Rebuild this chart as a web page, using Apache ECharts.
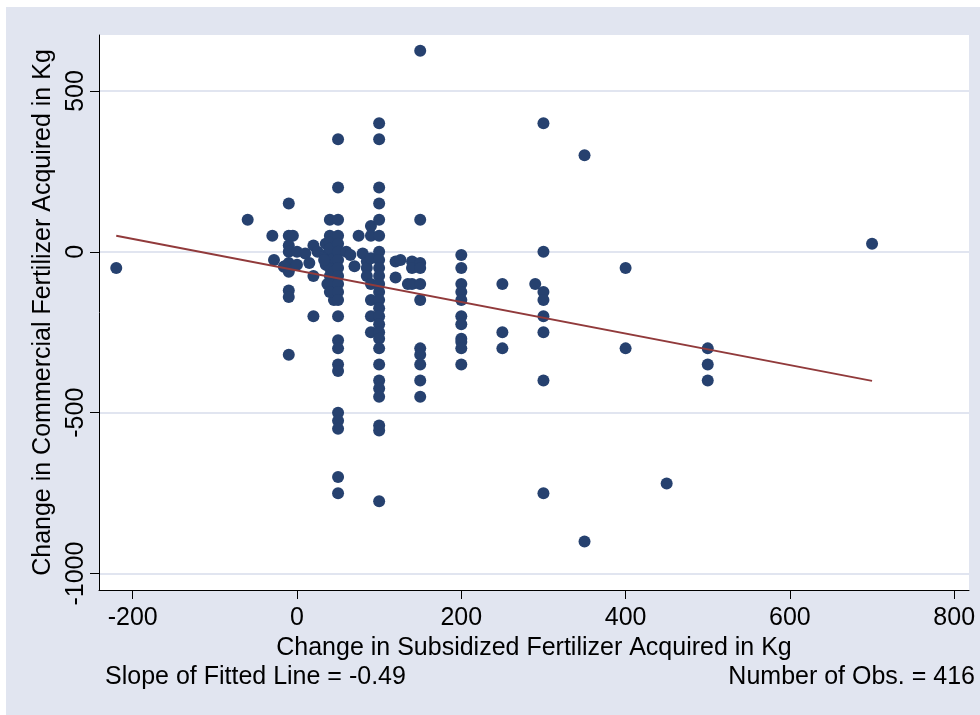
<!DOCTYPE html>
<html>
<head>
<meta charset="utf-8">
<script src="https://cdn.jsdelivr.net/npm/echarts@6/dist/echarts.min.js"></script>
<style>
html,body{margin:0;padding:0;background:#fff;}
#chart{width:980px;height:715px;}
</style>
</head>
<body>
<div id="chart"></div>
<script>
// Observations (change in subsidized fertilizer, change in commercial fertilizer), Kg
const obsX = [
  -220, -60, -30, -28,
  -10, -10, -5, -10, -10, -10, -10, -15, -10, -10, -10, -16, -10,
  0, 0, 10, 20, 15, 20, 20, 25,
  35, 35, 35, 40, 40, 40, 40, 40, 40, 40, 40, 45, 45, 45, 33, 37, 40, 40,
  50, 50, 50, 50, 50, 50, 50, 50, 50, 50, 50, 50, 50, 50, 50, 50, 50, 50, 50, 50, 50, 50,
  60, 65, 70, 75, 80, 85, 85, 85, 90, 90, 90, 90, 90, 90, 90,
  100, 100, 100, 100, 100, 100, 100, 100, 100, 100, 100, 100, 100, 100, 100, 100, 100, 100, 100, 100, 100, 100, 100, 100, 100, 100,
  120, 120, 140, 140, 135, 140, 126,
  150, 150, 150, 150, 150, 150, 150, 150, 150, 150, 150,
  200, 200, 200, 200, 200, 200, 200, 200, 200, 200, 200,
  250, 250, 250, 290,
  300, 300, 300, 300, 300, 300, 300, 300,
  350, 350, 400, 400, 450, 500, 500, 500, 700
];
const obsY = [
  -50, 100, 50, -25,
  150, 50, 50, 20, 0, -35, -55, -45, -120, -140, -320, -46, -62,
  0, -40, -5, 20, -35, -75, -200, 0,
  25, -10, -40, 100, 50, 30, 0, -25, -50, -75, 10, -20, -60, -150, -25, -100, -100, -125,
  350, 200, 100, 50, 25, 0, -25, -50, -75, -100, -125, -150, -200, -275, -300, -350, -370, -500, -525, -550, -700, -750,
  0, -10, -45, 50, -5, -30, -50, -75, 80, 50, -20, -100, -150, -200, -250,
  400, 350, 200, 150, 100, 50, 0, -25, -50, -75, -100, -125, -150, -175, -200, -225, -250, -270, -300, -350, -400, -425, -450, -540, -555, -775,
  -30, -80, -30, -50, -100, -100, -25,
  625, 100, -35, -50, -100, -150, -300, -320, -350, -400, -450,
  -10, -50, -100, -125, -150, -200, -225, -270, -280, -300, -350,
  -100, -250, -300, -100,
  400, 0, -125, -150, -200, -250, -400, -750,
  300, -900, -50, -300, -720, -300, -350, -400, 25
];
// Fitted line end points
const fitX = [-220, 700];
const fitY = [50, -401];
// Tick labels
const xTicks = [-200, 0, 200, 400, 600, 800];
const yTicks = [-1000, -500, 0, 500];

const xTitle = 'Change in Subsidized Fertilizer Acquired in Kg';
const yTitle = 'Change in Commercial Fertilizer Acquired in Kg';
const noteLeft = 'Slope of Fitted Line = -0.49';
const noteRight = 'Number of Obs. = 416';

const FONT = '"Liberation Sans", Arial, sans-serif';
const FS = 25;

const points = obsX.map((x, i) => [x, obsY[i]]);
const fitted = fitX.map((x, i) => [x, fitY[i]]);
const plain = v => String(v);

const chart = echarts.init(document.getElementById('chart'), null, {renderer: 'canvas'});
chart.setOption({
  animation: false,
  backgroundColor: '#e1e5f0',
  grid: {
    left: 99, right: 11, top: 35, bottom: 125,
    show: true, backgroundColor: '#ffffff', borderWidth: 0
  },
  graphic: [
    {type: 'rect', left: 0, top: 0, shape: {width: 980, height: 7}, style: {fill: '#ffffff'}, silent: true},
    {type: 'rect', left: 0, top: 0, shape: {width: 6, height: 715}, style: {fill: '#ffffff'}, silent: true},
    {type: 'text', left: 105, top: 665, style: {text: noteLeft, font: FS + 'px ' + FONT, fill: '#000'}},
    {type: 'text', right: 5, top: 665, style: {text: noteRight, font: FS + 'px ' + FONT, fill: '#000'}}
  ],
  xAxis: {
    type: 'value',
    min: -241, max: 818,
    name: xTitle,
    nameLocation: 'middle',
    nameGap: 36,
    nameTextStyle: {fontFamily: FONT, fontSize: FS, color: '#000'},
    axisLine: {show: true, onZero: false, lineStyle: {color: '#000', width: 1}},
    axisTick: {show: true, length: 9, customValues: xTicks, lineStyle: {color: '#000'}},
    axisLabel: {show: true, customValues: xTicks, formatter: plain, margin: 16, fontFamily: FONT, fontSize: FS, color: '#000'},
    splitLine: {show: false}
  },
  yAxis: {
    type: 'value',
    min: -1051, max: 674,
    name: yTitle,
    nameLocation: 'middle',
    nameRotate: 90,
    nameGap: 37,
    nameTextStyle: {fontFamily: FONT, fontSize: FS, color: '#000'},
    axisLine: {show: true, onZero: false, lineStyle: {color: '#000', width: 1}},
    axisTick: {show: true, length: 9, customValues: yTicks, lineStyle: {color: '#000'}},
    axisLabel: {show: true, customValues: yTicks, formatter: plain, rotate: 90, margin: 10, fontFamily: FONT, fontSize: FS, color: '#000'},
    splitLine: {show: true, lineStyle: {color: '#e1e5f0', width: 2}}
  },
  series: [
    {
      type: 'scatter',
      data: points,
      symbol: 'circle',
      symbolSize: 12,
      itemStyle: {color: '#26416f', opacity: 1},
      z: 2
    },
    {
      type: 'line',
      data: fitted,
      showSymbol: false,
      symbol: 'none',
      lineStyle: {color: '#913a3b', width: 2},
      z: 3
    }
  ]
});
</script>
</body>
</html>
